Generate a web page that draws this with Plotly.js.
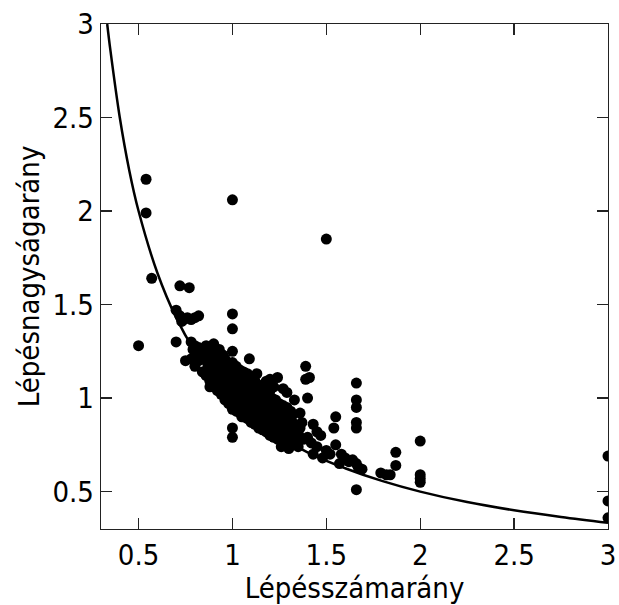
<!DOCTYPE html>
<html>
<head>
<meta charset="utf-8">
<script src="https://cdn.plot.ly/plotly-3.0.1.min.js"></script>
<style>html,body{margin:0;padding:0;background:#fff}#chart{width:619px;height:605px}</style>
</head>
<body>
<div id="chart"></div>
<script>
// Observed points (Lépésszámarány, Lépésnagyságarány)
var pointsX = [
  0.54,0.54,0.57,0.72,0.77,1.0,1.5,
  0.70,0.72,0.74,0.76,0.78,0.80,0.82,0.73,
  1.0,1.0,0.50,0.70,0.75,1.0,1.09,1.24,1.29,1.0,1.0,
  1.39,1.41,1.39,1.40,
  1.66,1.66,1.66,1.66,1.66,1.66,
  1.55,1.54,2.0,1.87,1.87,2.0,2.0,2.0,1.79,1.82,1.84,
  3.0,3.0,3.0,
  1.36,1.40,1.47,1.43,1.48,1.55,1.58,1.57,1.64,1.66,1.69,1.45,1.50,1.52,1.60,1.62,1.67,1.38,1.42,1.33,1.35,1.30,
  0.78,0.79,0.78,
  0.80,0.81,0.80,
  0.82,0.83,0.82,
  0.84,0.85,0.84,
  0.86,0.87,0.86,0.86,
  0.88,0.89,0.88,0.88,
  0.90,0.91,0.90,0.89,0.90,
  0.92,0.93,0.92,0.92,0.93,
  0.94,0.95,0.94,0.94,0.95,
  0.96,0.97,0.96,0.96,0.96,
  0.98,0.99,0.98,0.98,0.97,
  1.00,1.01,1.00,1.00,1.01,1.00,
  1.02,1.03,1.02,1.02,1.03,1.02,
  1.04,1.05,1.04,1.04,1.05,1.04,
  1.06,1.07,1.06,1.06,1.07,1.06,
  1.08,1.09,1.08,1.08,1.09,1.08,
  1.10,1.11,1.10,1.10,1.11,1.10,
  1.12,1.13,1.12,1.12,1.13,1.12,
  1.14,1.15,1.14,1.14,1.15,
  1.16,1.17,1.16,1.16,1.17,1.16,
  1.18,1.19,1.18,1.18,1.19,
  1.20,1.21,1.20,1.20,1.21,1.20,
  1.22,1.23,1.22,1.22,1.23,
  1.24,1.25,1.24,1.24,1.25,
  1.26,1.27,1.26,1.26,1.27,
  1.28,1.29,1.28,1.28,1.29,
  1.30,1.31,1.30,1.30,1.31,
  1.32,1.33,1.32,1.32,
  1.34,1.35,1.34,
  1.36,1.37,
  1.20,1.27,1.33,1.13,1.18,1.22,1.36,1.43,1.45,1.26,1.05,0.88
];
var pointsY = [
  2.17,1.99,1.64,1.60,1.59,2.06,1.85,
  1.47,1.44,1.42,1.43,1.42,1.43,1.44,1.41,
  1.45,1.37,1.28,1.30,1.20,1.25,1.21,1.11,1.03,0.84,0.79,
  1.17,1.11,1.10,1.00,
  1.08,0.99,0.95,0.87,0.84,0.51,
  0.90,0.84,0.77,0.71,0.64,0.59,0.57,0.55,0.60,0.59,0.59,
  0.69,0.45,0.36,
  0.84,0.79,0.80,0.70,0.68,0.75,0.70,0.65,0.67,0.65,0.62,0.74,0.72,0.70,0.68,0.66,0.63,0.78,0.76,0.80,0.74,0.73,
  1.21,1.26,1.30,
  1.17,1.23,1.28,
  1.20,1.25,1.27,
  1.14,1.21,1.26,
  1.12,1.17,1.23,1.28,
  1.09,1.16,1.21,1.27,
  1.06,1.13,1.18,1.24,1.29,
  1.04,1.10,1.15,1.21,1.26,
  1.02,1.07,1.13,1.19,1.23,
  0.99,1.05,1.11,1.17,1.21,
  0.97,1.02,1.08,1.14,1.19,
  0.94,0.99,1.05,1.10,1.14,1.19,
  0.93,0.98,1.03,1.08,1.13,1.17,
  0.92,0.96,1.01,1.06,1.11,1.15,
  0.90,0.95,1.00,1.05,1.10,1.14,
  0.89,0.93,0.98,1.03,1.08,1.13,
  0.87,0.92,0.97,1.02,1.07,1.11,
  0.86,0.90,0.95,1.00,1.05,1.09,
  0.84,0.89,0.94,0.99,1.04,
  0.83,0.88,0.93,0.98,1.03,1.07,
  0.82,0.87,0.92,0.97,1.02,
  0.80,0.85,0.90,0.95,1.00,1.04,
  0.79,0.84,0.89,0.94,0.99,
  0.78,0.83,0.88,0.93,0.97,
  0.77,0.82,0.87,0.92,0.96,
  0.76,0.81,0.86,0.91,0.95,
  0.75,0.80,0.85,0.89,0.93,
  0.78,0.83,0.87,0.91,
  0.76,0.81,0.85,
  0.79,0.87,
  1.10,1.05,0.99,1.13,1.09,1.06,0.92,0.86,0.82,0.74,0.90,1.06
];
// Fitted curve
var curveX = [0.333,0.35,0.4,0.45,0.5,0.6,0.7,0.8,0.9,1.0,1.2,1.4,1.6,1.8,2.0,2.25,2.5,2.75,3.0];
var curveY = [3.0,2.86,2.5,2.22,2.0,1.67,1.43,1.25,1.11,1.0,0.83,0.71,0.625,0.556,0.5,0.444,0.4,0.364,0.333];
var tickVals = [0.5,1,1.5,2,2.5,3];
var tickText = ['0.5','1','1.5','2','2.5','3'];
var xTitle = 'Lépésszámarány';
var yTitle = 'Lépésnagyságarány';

var fontFam = '"DejaVu Sans Condensed","DejaVu Sans",sans-serif';
var data = [
  {x: pointsX, y: pointsY, type: 'scatter', mode: 'markers',
   marker: {color: '#000', size: 11}, hoverinfo: 'skip'},
  {x: curveX, y: curveY, type: 'scatter', mode: 'lines',
   line: {color: '#000', width: 2.5, shape: 'spline'}, hoverinfo: 'skip'}
];
var axisCommon = {
  tickvals: tickVals, ticktext: tickText, ticks: 'inside', ticklen: 11, tickwidth: 1.3,
  tickcolor: '#222', showline: true, linecolor: '#222', linewidth: 1.3, mirror: 'ticks',
  showgrid: false, zeroline: false, tickfont: {family: fontFam, size: 29, color: '#000'}
};
var layout = {
  width: 619, height: 605, showlegend: false,
  margin: {l: 101, r: 11, t: 24, b: 76},
  paper_bgcolor: '#fff', plot_bgcolor: '#fff',
  xaxis: Object.assign({}, axisCommon, {range: [0.3, 3.0],
    title: {text: xTitle, font: {family: fontFam, size: 29, color: '#000'}, standoff: 2}}),
  yaxis: Object.assign({}, axisCommon, {range: [0.3, 3.0],
    title: {text: yTitle, font: {family: fontFam, size: 29, color: '#000'}, standoff: 4}})
};
Plotly.newPlot('chart', data, layout, {staticPlot: true});
</script>
</body>
</html>
